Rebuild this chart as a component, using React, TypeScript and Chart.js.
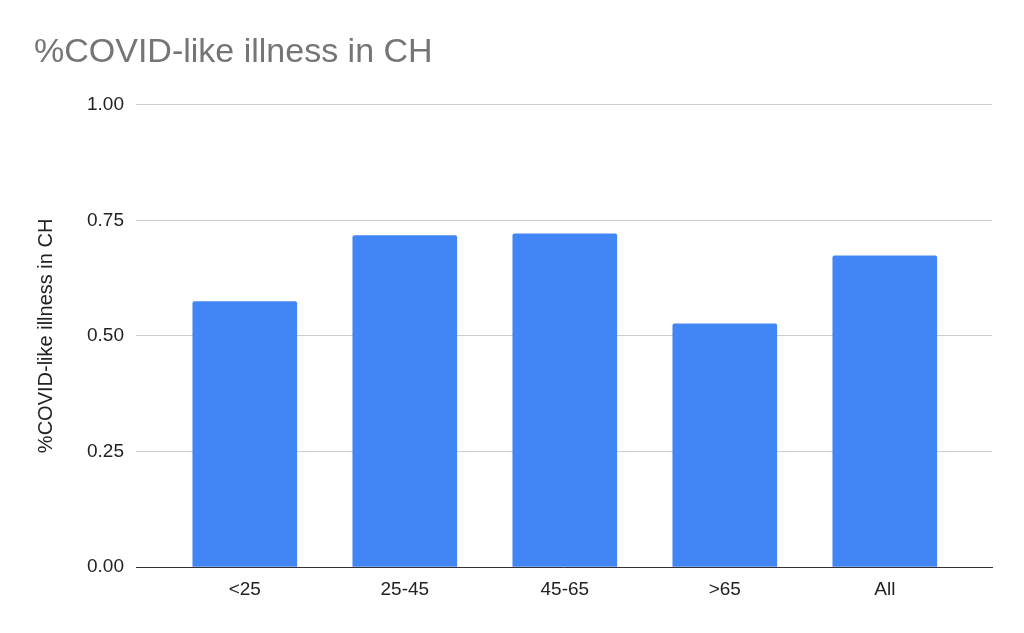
import React, { useEffect, useRef } from "react";
import { Chart, registerables } from "chart.js";

Chart.register(...registerables);

const categories = ["<25", "25-45", "45-65", ">65", "All"];
const values = [0.574, 0.717, 0.721, 0.526, 0.673];
const yTicks = [0, 0.25, 0.5, 0.75, 1];
const titleText = "%COVID-like illness in CH";
const yAxisTitle = "%COVID-like illness in CH";

const FONT = "Arial, 'Liberation Sans', sans-serif";

export default function App() {
  const ref = useRef<HTMLCanvasElement | null>(null);

  useEffect(() => {
    document.body.style.margin = "0";
    const canvas = ref.current;
    if (!canvas) return;
    const chart = new Chart(canvas, {
      type: "bar",
      data: {
        datasets: [
          {
            label: yAxisTitle,
            data: values.map((v, i) => ({ x: i, y: v })),
            backgroundColor: "#4285F4",
            borderWidth: 0,
            borderRadius: { topLeft: 2, topRight: 2, bottomLeft: 0, bottomRight: 0 },
            borderSkipped: false,
            barThickness: 104,
          },
        ],
      },
      options: {
        responsive: false,
        animation: false,
        maintainAspectRatio: false,
        layout: { padding: { left: 34, right: 32, top: 0, bottom: 26 } },
        plugins: {
          legend: { display: false },
          tooltip: { enabled: false },
          title: {
            display: true,
            text: titleText,
            align: "start",
            color: "#757575",
            font: { family: FONT, size: 34, weight: "normal" },
            padding: { top: 32, bottom: 32 },
          },
        },
        scales: {
          x: {
            type: "linear",
            offset: false,
            min: -0.68,
            max: 4.67,
            grid: { display: false, drawTicks: false, offset: false },
            border: { display: true, color: "#333333", width: 1 },
            afterBuildTicks: (scale: any) => {
              scale.ticks = categories.map((_, i) => ({ value: i }));
            },
            afterFit: (scale: any) => {
              scale.height = 40;
            },
            ticks: {
              autoSkip: false,
              maxRotation: 0,
              padding: 11,
              color: "#222222",
              font: { family: FONT, size: 19 },
              callback: (v: any) => categories[Math.round(Number(v))] ?? "",
            },
          },
          y: {
            min: 0,
            max: 1,
            afterBuildTicks: (scale: any) => {
              scale.ticks = yTicks.map((v) => ({ value: v }));
            },
            afterFit: (scale: any) => {
              scale.width = 102;
            },
            grid: { color: "#cccccc", drawTicks: false, lineWidth: 1 },
            border: { display: false },
            ticks: {
              padding: 12,
              color: "#222222",
              font: { family: FONT, size: 19 },
              callback: (v: any) => Number(v).toFixed(2),
            },
            title: {
              display: true,
              text: yAxisTitle,
              color: "#222222",
              font: { family: FONT, size: 20 },
              padding: 0,
            },
          },
        },
      },
    } as any);
    return () => chart.destroy();
  }, []);

  return (
    <div style={{ width: 1024, height: 633, background: "#ffffff" }}>
      <canvas ref={ref} width={1024} height={633} style={{ display: "block" }} />
    </div>
  );
}
